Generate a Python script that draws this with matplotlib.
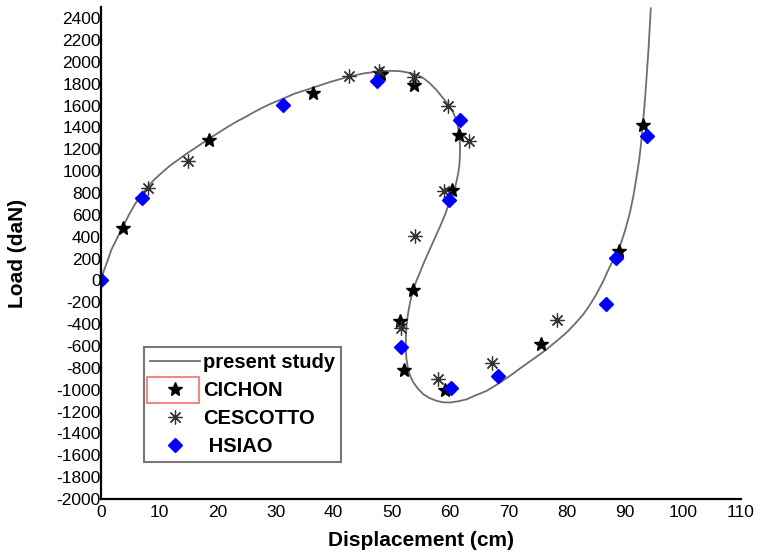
"""
    Load-displacement curve: present study vs reference results
"""

import numpy as np
import matplotlib.pyplot as plt
from matplotlib.patches import Rectangle

plt.rcParams['font.family'] = ['Liberation Sans', 'DejaVu Sans']
plt.rcParams['axes.unicode_minus'] = False

# present study curve (displacement [cm], load [daN])
study_x = [0.0, 0.5, 1.2, 1.8, 2.8, 3.8, 4.8, 5.8, 7.0, 8.1, 9.2, 10.4,
           11.8, 13.3, 14.7, 16.2, 17.6, 19.0, 20.5, 21.9, 23.3, 24.8, 26.2,
           27.6, 29.3, 31.1, 33.3, 36.5, 39.5, 42.7, 45.2, 47.8, 49.6, 51.4,
           53.0, 54.3, 55.5, 56.5, 57.7, 58.8, 59.8, 60.6, 61.1, 61.4, 61.6,
           61.7, 61.7, 61.6, 61.4, 61.1, 60.6, 59.9, 59.2, 58.3, 57.4, 56.5,
           55.6, 54.8, 54.2, 53.7, 53.3, 53.0, 52.7, 52.5, 52.4, 52.4, 52.5,
           52.8, 53.2, 53.7, 54.5, 55.4, 56.5, 57.7, 58.8, 60.0, 61.5, 62.9,
           64.0, 66.3, 68.3, 70.5, 72.6, 74.6, 76.6, 78.3, 80.0, 81.5, 82.9,
           84.0, 85.0, 86.2, 87.5, 88.4, 89.2, 90.1, 90.9, 91.5, 92.0, 92.5,
           92.9, 93.2, 93.5, 93.8, 94.1, 94.3, 94.5]
study_y = [0, 90, 190, 283, 390, 496, 600, 694, 790, 861, 925, 983,
           1048, 1105, 1160, 1212, 1262, 1312, 1362, 1409, 1453, 1495, 1537,
           1577, 1620, 1659, 1710, 1765, 1818, 1866, 1895, 1912, 1918, 1915,
           1900, 1881, 1848, 1805, 1740, 1668, 1600, 1531, 1460, 1394, 1320,
           1242, 1150, 1059, 980, 907, 785, 724, 610, 496, 390, 283,
           175, 70, -5, -82, -160, -235, -330, -417, -520, -630, -720,
           -813, -880, -934, -992, -1041, -1077, -1102, -1115, -1117, -1105, -1087,
           -1060, -1010, -945, -865, -783, -708, -630, -555, -478, -395, -310,
           -225, -140, -20, 131, 220, 313, 460, 618, 770, 930, 1100,
           1288, 1470, 1653, 1880, 2110, 2300, 2490]

# CICHON
cichon_x = [3.8, 18.6, 36.5, 48.2, 53.8, 61.5, 60.4, 53.6, 51.4, 52.1,
            59.2, 75.6, 89.1, 93.1]
cichon_y = [481, 1288, 1714, 1888, 1784, 1333, 831, -88, -372, -819,
            -1002, -584, 268, 1425]

# CESCOTTO
cescotto_x = [8.0, 15.0, 42.7, 47.8, 53.8, 59.6, 63.3, 59.0, 54.0, 51.5,
              58.0, 67.2, 78.4]
cescotto_y = [847, 1090, 1872, 1918, 1866, 1592, 1272, 822, 405, -432,
              -904, -752, -362]

# HSIAO
hsiao_x = [0.0, 7.0, 31.2, 47.5, 61.7, 59.9, 51.5, 60.1, 68.3, 86.8,
           88.5, 93.9]
hsiao_y = [0, 755, 1607, 1826, 1470, 740, -609, -980, -874, -219,
           207, 1318]

x_ticks = np.arange(0, 111, 10)
y_ticks = np.arange(-2000, 2401, 200)

fig = plt.figure(figsize=(7.65, 5.56), dpi=100)
ax = fig.add_axes([0.132, 0.1025, 0.8366, 0.8845])

ax.plot(study_x, study_y, color='#6e6e6e', lw=1.3, label='present study')
ax.plot(cichon_x, cichon_y, '*', color='black', ms=10, label='CICHON')
ax.plot(cescotto_x, cescotto_y, ls='none', marker=(8, 2, 0), ms=10,
        markeredgecolor='#333333', markeredgewidth=0.9, label='CESCOTTO')
ax.plot(hsiao_x, hsiao_y, 'D', color='#0000ff', ms=7.5, label=' HSIAO')

ax.set_xlim(0, 110)
ax.set_ylim(-2000, 2500)
ax.set_xticks(x_ticks)
ax.set_yticks(y_ticks)
ax.tick_params(length=0, labelsize=12.5)
ax.tick_params(axis='y', pad=0)
ax.tick_params(axis='x', pad=4)

for side in ['top', 'right']:
    ax.spines[side].set_visible(False)
for side in ['left', 'bottom']:
    ax.spines[side].set_linewidth(1.6)
    ax.spines[side].set_color('black')

ax.set_xlabel('Displacement (cm)', fontsize=15, fontweight='bold')
ax.set_ylabel('Load (daN)', fontsize=15, fontweight='bold')
ax.xaxis.set_label_coords(0.5, -0.066)
ax.yaxis.set_label_coords(-0.115, 0.5)

leg = ax.legend(loc='upper left', bbox_to_anchor=(0.188, 0.376),
                bbox_transform=fig.transFigure, fontsize=14.5, fancybox=False,
                edgecolor='#777777', framealpha=1, borderpad=0.3,
                labelspacing=0.45, handlelength=2.5, handletextpad=0.15,
                borderaxespad=0)
leg.get_frame().set_linewidth(1.5)
for txt in leg.get_texts():
    txt.set_fontweight('bold')

# red selection box around the CICHON legend marker
fig.patches.append(Rectangle((146.7 / 765, 1 - 403.3 / 556), 52.6 / 765,
                             26.6 / 556, transform=fig.transFigure,
                             fill=False, edgecolor='#f08a8a', lw=1.5))

fig.savefig('out.png', dpi=100)
